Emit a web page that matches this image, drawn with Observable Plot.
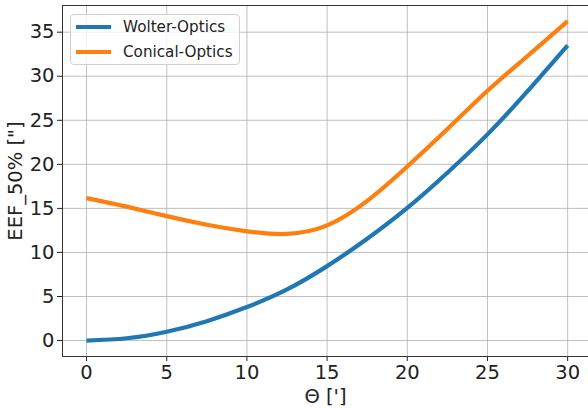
<!DOCTYPE html>
<html>
<head>
<meta charset="utf-8">
<script src="https://cdn.jsdelivr.net/npm/d3@7"></script>
<script src="https://cdn.jsdelivr.net/npm/@observablehq/plot@0.6"></script>
<style>
  html, body { margin: 0; padding: 0; background: #fff; }
  #wrap { position: relative; width: 588px; height: 408px; overflow: hidden; font-family: "DejaVu Sans", sans-serif; }
  #legend {
    position: absolute; left: 70px; top: 14px; width: 170px; height: 51px;
    border: 1px solid #d0d0d0; border-radius: 4px; background: rgba(255,255,255,0.8);
    box-sizing: border-box;
  }
  .row { position: absolute; left: 0; height: 20px; display: flex; align-items: center; font-size: 15.2px; color: #222; }
  .sw { width: 35px; height: 4px; margin-left: 5px; margin-right: 12px; }
</style>
</head>
<body>
<div id="wrap">
  <div id="chart"></div>
  <div id="legend"></div>
</div>
<script>
// Off-axis angle in arcminutes
const theta   = [0, 2.5, 5, 7.5, 10, 12.5, 15, 17.5, 20, 22.5, 25, 27.5, 30];
// 50% encircled-energy diameter in arcseconds
const wolter  = [0, 0.26, 1.0, 2.2, 3.8, 5.8, 8.45, 11.55, 15.05, 19.05, 23.4, 28.3, 33.5];
const conical = [16.17, 15.2, 14.12, 13.15, 12.4, 12.1, 13.07, 15.85, 19.75, 24.0, 28.35, 32.3, 36.25];

const seriesNames  = ["Wolter-Optics", "Conical-Optics"];
const seriesColors = ["#1f77b4", "#ff7f0e"];
const xTicks = [0, 5, 10, 15, 20, 25, 30];
const yTicks = [0, 5, 10, 15, 20, 25, 30, 35];

const rows = [];
[wolter, conical].forEach((vals, s) => {
  theta.forEach((t, i) => rows.push({theta: t, value: vals[i], series: seriesNames[s]}));
});

const chart = Plot.plot({
  width: 588,
  height: 408,
  marginLeft: 62,
  marginRight: 0,
  marginTop: 5,
  marginBottom: 52,
  style: {fontFamily: "DejaVu Sans, sans-serif", background: "white", color: "#222"},
  x: {domain: [-1.5, 31.3]},
  y: {domain: [-1.81, 38.03]},
  color: {domain: seriesNames, range: seriesColors},
  marks: [
    Plot.gridX(xTicks, {stroke: "#b0b0b0", strokeOpacity: 1, strokeWidth: 0.8}),
    Plot.gridY(yTicks, {stroke: "#b0b0b0", strokeOpacity: 1, strokeWidth: 0.8}),
    Plot.axisX(xTicks, {tickSize: 5, tickPadding: 4, fontSize: 19.5, tickFormat: d => String(d),
      label: "Θ [']", labelAnchor: "center", labelOffset: 46, labelArrow: "none"}),
    Plot.axisY(yTicks, {tickSize: 5, tickPadding: 3, fontSize: 19.5, tickFormat: d => String(d),
      label: "EEF_50% [\"]", labelAnchor: "center", labelOffset: 54, labelArrow: "none"}),
    Plot.frame({anchor: "left", stroke: "#333"}),
    Plot.frame({anchor: "top", stroke: "#333"}),
    Plot.frame({anchor: "bottom", stroke: "#333"}),
    Plot.line(rows, {x: "theta", y: "value", stroke: "series", z: "series",
      strokeWidth: 4.2, curve: "natural", strokeLinecap: "butt"})
  ]
});
document.getElementById("chart").appendChild(chart);

// Legend inside the upper-left corner of the axes
const legend = document.getElementById("legend");
seriesNames.forEach((name, i) => {
  const row = document.createElement("div");
  row.className = "row";
  row.style.top = (i === 0 ? 2 : 26.5) + "px";
  const sw = document.createElement("div");
  sw.className = "sw";
  sw.style.background = seriesColors[i];
  const label = document.createElement("span");
  label.textContent = name;
  row.appendChild(sw);
  row.appendChild(label);
  legend.appendChild(row);
});
</script>
</body>
</html>
